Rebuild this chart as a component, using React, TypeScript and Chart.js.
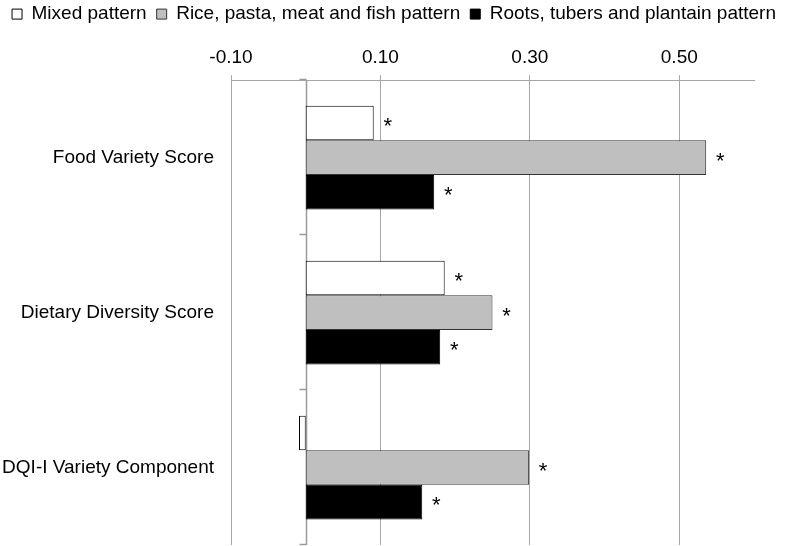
import React, { useEffect, useRef } from "react";
import { Chart, registerables } from "chart.js";

Chart.register(...registerables);

const categories = ["Food Variety Score", "Dietary Diversity Score", "DQI-I Variety Component"];
const seriesNames = [
  "Mixed pattern",
  "Rice, pasta, meat and fish pattern",
  "Roots, tubers and plantain pattern",
];
const mixedValues = [0.091, 0.186, -0.009];
const riceValues = [0.536, 0.25, 0.299];
const rootsValues = [0.172, 0.18, 0.156];
const mixedSignificant = [true, true, false];
const riceSignificant = [true, true, true];
const rootsSignificant = [true, true, true];
const xTickValues = [-0.1, 0.1, 0.3, 0.5];
const xMin = -0.1;
const xMax = 0.6;

const FONT = "'Liberation Sans', Arial, Helvetica, sans-serif";

export default function App() {
  const ref = useRef<HTMLCanvasElement | null>(null);

  useEffect(() => {
    document.body.style.margin = "0";
    const canvas = ref.current;
    if (!canvas) return;
    Chart.defaults.font.family = FONT;

    const significance = [mixedSignificant, riceSignificant, rootsSignificant];

    const zeroLinePlugin = {
      id: "zeroLine",
      beforeDatasetsDraw(chart: any) {
        const { ctx, chartArea } = chart;
        const xs = chart.scales.x;
        const ys = chart.scales.y;
        const x0 = Math.round(xs.getPixelForValue(0)) + 0.5;
        ctx.save();
        ctx.strokeStyle = "#9a9a9a";
        ctx.lineWidth = 1.5;
        ctx.beginPath();
        ctx.moveTo(x0, chartArea.top);
        ctx.lineTo(x0, chartArea.bottom);
        for (let i = 0; i <= categories.length; i++) {
          const y = Math.round(ys.getPixelForValue(i - 0.5)) - 0.5;
          ctx.moveTo(x0 - 7, y);
          ctx.lineTo(x0, y);
        }
        ctx.stroke();
        ctx.restore();
      },
    };

    const asteriskPlugin = {
      id: "asterisks",
      afterDatasetsDraw(chart: any) {
        const { ctx } = chart;
        ctx.save();
        ctx.fillStyle = "#000";
        ctx.font = `22px ${FONT}`;
        ctx.textAlign = "center";
        ctx.textBaseline = "alphabetic";
        chart.data.datasets.forEach((ds: any, i: number) => {
          const meta = chart.getDatasetMeta(i);
          meta.data.forEach((bar: any, j: number) => {
            if (!significance[i][j]) return;
            const v = ds.data[j];
            const x = bar.x + (v >= 0 ? 14 : -14);
            ctx.fillText("*", x, bar.y + 10);
          });
        });
        ctx.restore();
      },
    };

    const chart = new Chart(canvas, {
      type: "bar",
      data: {
        labels: categories,
        datasets: [
          {
            label: seriesNames[0],
            data: mixedValues,
            backgroundColor: "#ffffff",
            borderColor: "#000000",
            borderWidth: 1,
            borderSkipped: false,
          },
          {
            label: seriesNames[1],
            data: riceValues,
            backgroundColor: "#bfbfbf",
            borderColor: "#333333",
            borderWidth: 1,
            borderSkipped: false,
          },
          {
            label: seriesNames[2],
            data: rootsValues,
            backgroundColor: "#000000",
            borderColor: "#000000",
            borderWidth: 1,
            borderSkipped: false,
          },
        ],
      },
      options: {
        indexAxis: "y",
        animation: false,
        responsive: false,
        devicePixelRatio: 1,
        layout: { padding: { top: -5.4, right: 0, bottom: 1, left: 0 } },
        datasets: {
          bar: { categoryPercentage: 0.67, barPercentage: 1 },
        },
        plugins: {
          tooltip: { enabled: false },
          legend: {
            position: "top",
            align: "end",
            labels: {
              boxWidth: 10,
              boxHeight: 10,
              padding: 10,
              color: "#000",
              font: { size: 19, family: FONT },
            },
          },
        },
        scales: {
          x: {
            type: "linear",
            position: "top",
            min: xMin,
            max: xMax,
            afterBuildTicks: (s: any) => {
              s.ticks = xTickValues.map((v) => ({ value: v }));
            },
            afterFit: (s: any) => {
              s.height = 46.6;
            },
            ticks: {
              color: "#000",
              font: { size: 19, family: FONT },
              padding: 6,
              callback: (v: any) => Number(v).toFixed(2),
            },
            grid: { color: "#a6a6a6", lineWidth: 1, tickLength: 5 },
            border: { color: "#a6a6a6" },
          },
          y: {
            type: "category",
            position: "left",
            afterFit: (s: any) => {
              s.width = 231;
              s.paddingTop = 0;
              s.paddingBottom = 0;
            },
            grid: { display: false, drawTicks: false },
            border: { display: false },
            ticks: {
              color: "#000",
              font: { size: 19, family: FONT },
              padding: 17,
            },
          },
          yR: {
            type: "linear",
            position: "right",
            display: true,
            afterFit: (s: any) => {
              s.width = 32;
              s.paddingTop = 0;
              s.paddingBottom = 0;
            },
            grid: { display: false, drawTicks: false },
            border: { display: false },
            ticks: { display: false },
          },
        },
      },
      plugins: [zeroLinePlugin, asteriskPlugin],
    } as any);

    return () => chart.destroy();
  }, []);

  return (
    <div style={{ width: 786, height: 546 }}>
      <canvas ref={ref} width={786} height={546} style={{ display: "block" }} />
    </div>
  );
}
